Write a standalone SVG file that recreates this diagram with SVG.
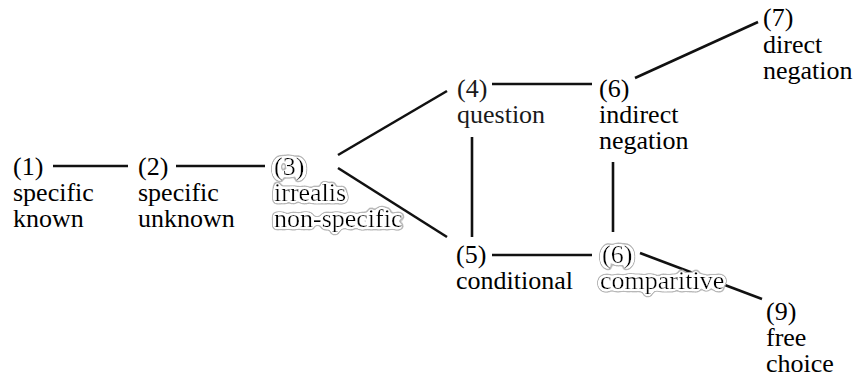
<svg xmlns="http://www.w3.org/2000/svg" width="857" height="379" viewBox="0 0 857 379">
<defs>
<filter id="halo" x="-0.2" y="-0.4" width="1.4" height="1.8">
<feGaussianBlur in="SourceAlpha" stdDeviation="2.6" result="b"/>
<feComponentTransfer in="b" result="outer"><feFuncA type="linear" slope="40" intercept="-1.2"/></feComponentTransfer>
<feComponentTransfer in="b" result="inner"><feFuncA type="linear" slope="40" intercept="-3"/></feComponentTransfer>
<feFlood flood-color="#b8b8b8" result="f1"/>
<feComposite in="f1" in2="outer" operator="in" result="g"/>
<feFlood flood-color="#ffffff" result="f2"/>
<feComposite in="f2" in2="inner" operator="in" result="w"/>
<feMerge><feMergeNode in="g"/><feMergeNode in="w"/><feMergeNode in="SourceGraphic"/></feMerge>
</filter>
</defs>
<rect width="857" height="379" fill="#fff"/>
<g id="connectors" stroke="#111" stroke-width="2.6">
<line x1="53" y1="166" x2="128" y2="166"/>
<line x1="176" y1="166" x2="265" y2="166"/>
<line x1="338" y1="155" x2="447" y2="91"/>
<line x1="338" y1="168" x2="447" y2="237"/>
<line x1="492" y1="84" x2="592" y2="84"/>
<line x1="635" y1="78" x2="758" y2="22"/>
<line x1="472" y1="137" x2="472" y2="237"/>
<line x1="613" y1="162" x2="613" y2="232"/>
<line x1="492" y1="255" x2="592" y2="255"/>
<line x1="640" y1="253" x2="762" y2="299"/>
</g>
<text font-family="Liberation Serif" font-size="26" x="13" y="175">(1)</text>
<text font-family="Liberation Serif" font-size="26" x="13" y="201">specific</text>
<text font-family="Liberation Serif" font-size="26" x="13" y="227">known</text>
<g id="n2">
<text font-family="Liberation Serif" font-size="26" x="138" y="175">(2)</text>
<text font-family="Liberation Serif" font-size="26" x="138" y="201">specific</text>
<text font-family="Liberation Serif" font-size="26" x="138" y="227">unknown</text>
</g>
<g id="n3">
<text filter="url(#halo)" font-family="Liberation Serif" font-size="26" x="274" y="175">(3)</text>
<text filter="url(#halo)" font-family="Liberation Serif" font-size="26" x="274" y="201">irrealis</text>
<text filter="url(#halo)" font-family="Liberation Serif" font-size="26" x="274" y="227">non-specific</text>
</g>
<g id="n4">
<text font-family="Liberation Serif" font-size="26" fill="#1a1a1a" x="457" y="97">(4)</text>
<text font-family="Liberation Serif" font-size="26" fill="#1a1a1a" x="457" y="123">question</text>
</g>
<g id="n5">
<text font-family="Liberation Serif, serif" font-size="26" x="456" y="263">(5)</text>
<text font-family="Liberation Serif, serif" font-size="26" x="456" y="289">conditional</text>
</g>
<g id="n6a">
<text font-family="Liberation Serif" font-size="26" x="599" y="97">(6)</text>
<text font-family="Liberation Serif" font-size="26" x="599" y="123">indirect</text>
<text font-family="Liberation Serif" font-size="26" x="599" y="149">negation</text>
</g>
<g id="n6b">
<text filter="url(#halo)" font-family="Liberation Serif" font-size="26" x="602" y="263">(6)</text>
<text filter="url(#halo)" font-family="Liberation Serif" font-size="26" x="600" y="289">comparitive</text>
</g>
<g id="n7">
<text font-family="Liberation Serif" font-size="26" x="763" y="26">(7)</text>
<text font-family="Liberation Serif" font-size="26" x="763" y="52.5">direct</text>
<text font-family="Liberation Serif" font-size="26" x="763" y="79">negation</text>
</g>
<g id="n9">
<text font-family="Liberation Serif" font-size="26" x="766" y="320">(9)</text>
<text font-family="Liberation Serif" font-size="26" x="766" y="346">free</text>
<text font-family="Liberation Serif" font-size="26" x="766" y="372">choice</text>
</g>
</svg>
